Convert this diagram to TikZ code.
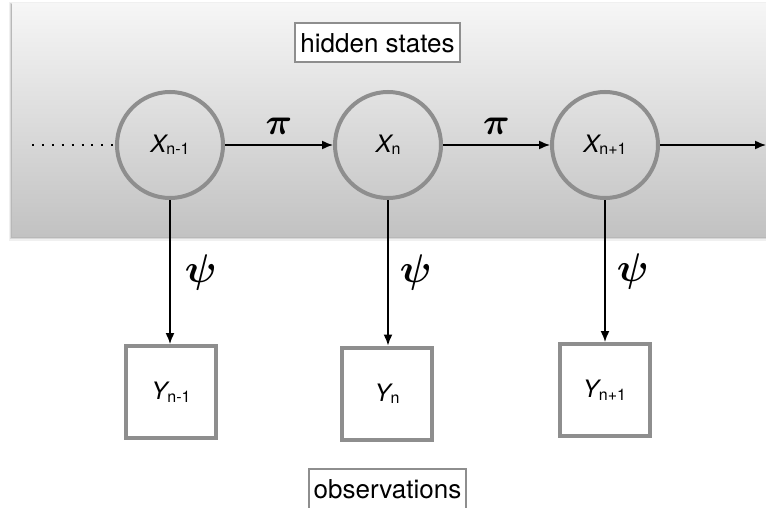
\documentclass[tikz,border=0pt]{standalone}
\usepackage{graphicx}
\usepackage{fontspec}
\usepackage{amsmath,bm}
\setsansfont{TeX Gyre Heros}
\usetikzlibrary{arrows.meta}
\definecolor{bandtop}{HTML}{F6F6F6}
\definecolor{bandbot}{HTML}{C2C2C2}
\definecolor{edgegray}{HTML}{8E8E8E}
\newcommand{\lbl}[2]{{\sffamily\fontsize{24}{24}\selectfont\itshape #1\upshape\fontsize{16}{16}\selectfont\raisebox{-2.5pt}{#2}}}
\newcommand{\bigmath}[2]{\scalebox{#1}{\normalsize$#2$}}
\begin{document}
\begin{tikzpicture}[x=1pt,y=-1pt,
  state/.style={circle,draw=edgegray,line width=4pt,minimum size=106pt,inner sep=0pt},
  obsbox/.style={rectangle,draw=edgegray,fill=white,line width=4pt,minimum width=90pt,minimum height=92pt,inner sep=0pt},
  tagbox/.style={rectangle,draw=edgegray,fill=white,line width=2pt,inner sep=0pt,font=\sffamily\fontsize{26}{26}\selectfont},
  conn/.style={line width=1.5pt,-{Latex[length=11pt,width=9pt]}},
  lab/.style={inner sep=0pt}]
\useasboundingbox (0,0) rectangle (766,508);
% band shadow
\fill[black,opacity=0.06] (9,2) rectangle (790,241);
\fill[black,opacity=0.10] (10,3) rectangle (790,239);
\fill[black,opacity=0.15] (11,4) rectangle (790,238);
% band
\shade[top color=bandtop,bottom color=bandbot] (12,4) rectangle (790,236);
% tag boxes
\node[tagbox,anchor=base,minimum width=165pt,text height=30pt,text depth=9pt] (hid) at (377.5,53) {hidden states};
\node[tagbox,anchor=base,minimum width=157pt,text height=29pt,text depth=25pt] (obs) at (387.5,498) {observations};
% states
\node[state] (Xa) at (170,145) {\lbl{X}{n-1}};
\node[state] (Xb) at (388,145) {\lbl{X}{n}};
\node[state] (Xc) at (605,145) {\lbl{X}{n+1}};
% observations
\node[obsbox] (Ya) at (171,392) {\lbl{Y}{n-1}};
\node[obsbox] (Yb) at (387,393.5) {\lbl{Y}{n}};
\node[obsbox] (Yc) at (604.5,390) {\lbl{Y}{n+1}};
% connectors
\coordinate (start) at (32,145);
\coordinate (end) at (766,145);
\draw[line width=1.5pt,dash pattern=on 2pt off 7.9pt] (start) -- (Xa.west);
\draw[conn] (Xa) -- (Xb) node[midway,above=10pt,lab] {\bigmath{3.7}{\bm{\pi}}};
\draw[conn] (Xb) -- (Xc) node[midway,above=10pt,lab] {\bigmath{3.7}{\bm{\pi}}};
\draw[conn] (Xc) -- (end);
\draw[conn] (Xa.south) -- (Xa.south |- Ya.north) node[pos=0.5,right=14pt,lab] {\bigmath{4.0}{\bm{\psi}}};
\draw[conn] (Xb.south) -- (Xb.south |- Yb.north) node[pos=0.5,right=11pt,lab] {\bigmath{4.0}{\bm{\psi}}};
\draw[conn] (Xc.south) -- (Xc.south |- Yc.north) node[pos=0.5,right=11pt,lab] {\bigmath{4.0}{\bm{\psi}}};
\end{tikzpicture}
\end{document}
